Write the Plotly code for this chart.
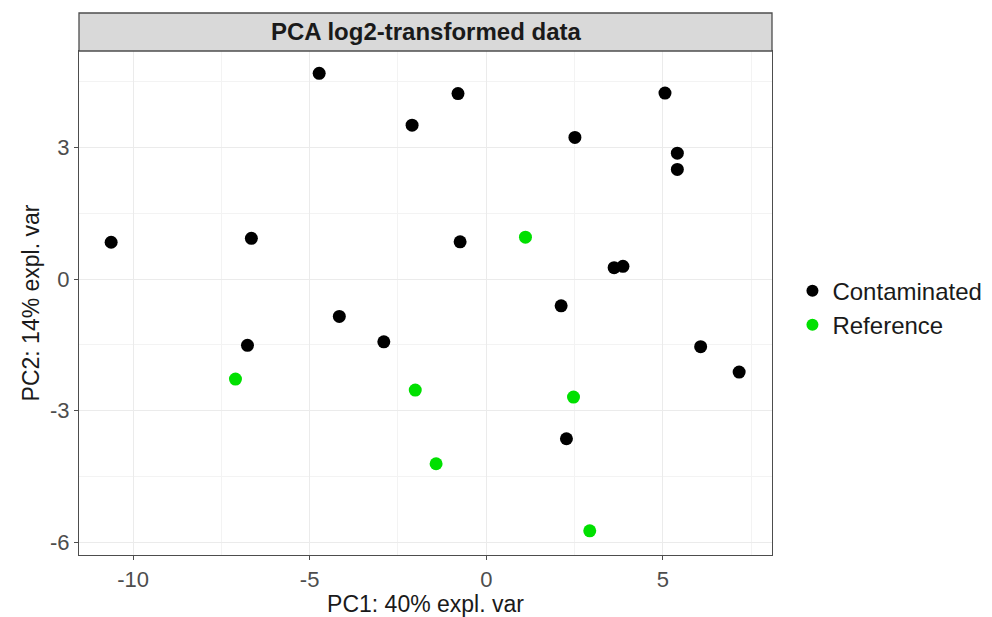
import plotly.graph_objects as go

# Data
contaminated_pc1 = [-10.62, -6.65, -4.73, -2.10, -0.80, -0.74, -4.16, -6.76, -2.90,
                    5.06, 2.51, 5.41, 5.41, 3.62, 3.87, 2.12, 6.07, 7.16, 2.27]
contaminated_pc2 = [0.84, 0.93, 4.69, 3.51, 4.23, 0.85, -0.85, -1.51, -1.43,
                    4.24, 3.23, 2.87, 2.50, 0.26, 0.29, -0.61, -1.54, -2.12, -3.64]
reference_pc1 = [-7.10, -2.01, -1.42, 1.11, 2.47, 2.93]
reference_pc2 = [-2.28, -2.53, -4.21, 0.956, -2.69, -5.74]

group_names = ["Contaminated", "Reference"]
group_colors = ["#000000", "#00E000"]
panel_title = "PCA log2-transformed data"
x_title = "PC1: 40% expl. var"
y_title = "PC2: 14% expl. var"
x_ticks = [-10, -5, 0, 5]
y_ticks = [-6, -3, 0, 3]

FONT = "Liberation Sans, Arial, sans-serif"

fig = go.Figure()
for name, color, xs, ys in [
    (group_names[0], group_colors[0], contaminated_pc1, contaminated_pc2),
    (group_names[1], group_colors[1], reference_pc1, reference_pc2),
]:
    fig.add_trace(go.Scatter(
        x=xs, y=ys, mode="markers", name=name,
        marker=dict(color=color, size=13, line=dict(width=0)),
    ))

axis_common = dict(
    showline=True, mirror=True, linecolor="#4D4D4D", linewidth=1.3,
    ticks="outside", ticklen=4, tickcolor="#4D4D4D", tickwidth=1,
    tickfont=dict(family=FONT, size=22, color="#4D4D4D"),
    showgrid=True, gridcolor="#EBEBEB", gridwidth=1,
    zeroline=False,
)

fig.update_xaxes(
    range=[-11.53, 8.09], tickvals=x_ticks, ticktext=[str(v) for v in x_ticks],
    minor=dict(tickvals=[-7.5, -2.5, 2.5, 7.5], showgrid=True, gridcolor="#F3F3F3", ticks=""),
    title=dict(text=x_title, font=dict(family=FONT, size=23, color="#1a1a1a"), standoff=4),
    **axis_common,
)
fig.update_yaxes(
    range=[-6.29, 5.20], tickvals=y_ticks, ticktext=[str(v) for v in y_ticks],
    minor=dict(tickvals=[-4.5, -1.5, 1.5, 4.5], showgrid=True, gridcolor="#F3F3F3", ticks=""),
    title=dict(text=y_title, font=dict(family=FONT, size=23, color="#1a1a1a"), standoff=3),
    **axis_common,
)

fig_w, fig_h = 984, 609
m_l, m_r, m_t, m_b = 71, 220, 43, 62
plot_h = fig_h - m_t - m_b
strip_h = 38
fig.add_shape(
    type="rect", xref="paper", yref="paper",
    x0=0, x1=1, y0=1, y1=1 + strip_h / plot_h,
    fillcolor="#D9D9D9", line=dict(color="#4D4D4D", width=1.3), layer="above",
)
fig.add_annotation(
    text="<b>" + panel_title + "</b>", xref="paper", yref="paper",
    x=0.5, y=1 + strip_h / 2 / plot_h, xanchor="center", yanchor="middle",
    showarrow=False, font=dict(family=FONT, size=24, color="#1a1a1a"),
)

fig.update_layout(
    width=fig_w, height=fig_h,
    margin=dict(l=m_l, r=m_r, t=m_t, b=m_b, autoexpand=False),
    paper_bgcolor="white", plot_bgcolor="white",
    font=dict(family=FONT),
    showlegend=True,
    legend=dict(
        x=1.0295, y=0.49, xanchor="left", yanchor="middle",
        font=dict(family=FONT, size=24, color="#1a1a1a"),
        bgcolor="rgba(0,0,0,0)", itemsizing="constant",
    ),
)

fig.write_html("out.html")
